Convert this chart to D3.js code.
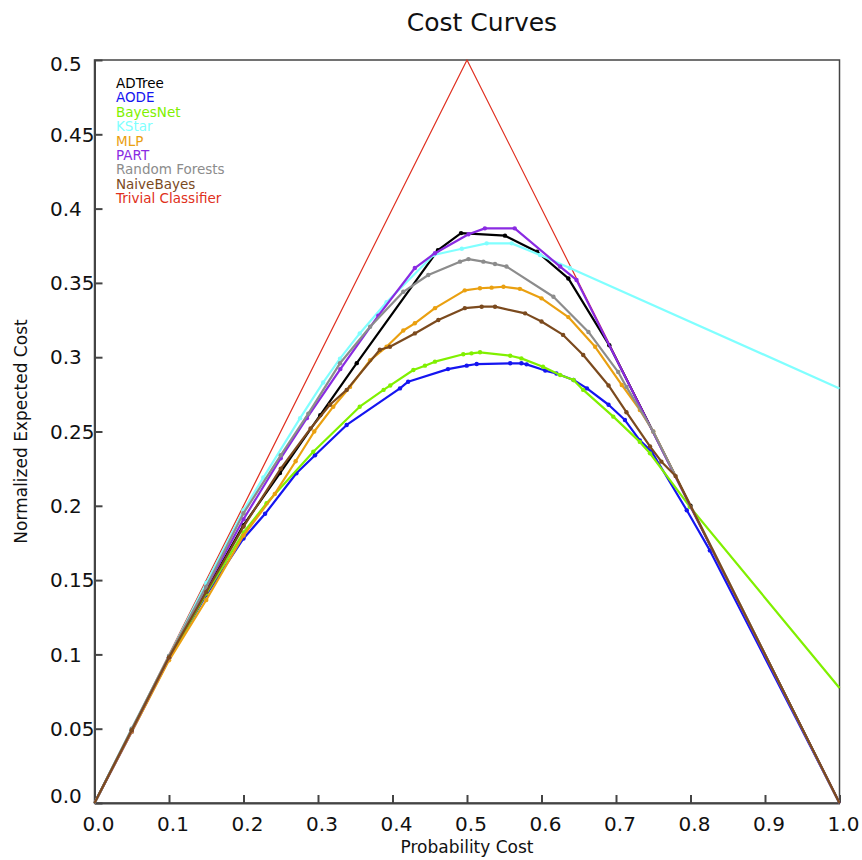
<!DOCTYPE html>
<html>
<head>
<meta charset="utf-8">
<script src="https://cdn.jsdelivr.net/npm/d3@7"></script>
<style>
  body { margin: 0; background: #fff; }
  text { font-family: "DejaVu Sans", sans-serif; }
</style>
</head>
<body>
<div id="svg-container"></div>
<script>
// data: [probability cost, normalized expected cost]
const trivial = [[0, 0], [0.5, 0.5], [1, 0]];

const adtree = [[0, 0], [0.05, 0.049], [0.1, 0.097], [0.15, 0.143], [0.2, 0.187], [0.249, 0.222],
  [0.303, 0.261], [0.352, 0.296], [0.461, 0.372], [0.492, 0.3835], [0.551, 0.3818], [0.594, 0.371],
  [0.636, 0.353], [0.691, 0.308], [0.8, 0.2], [1, 0]];

const aode = [[0, 0], [0.05, 0.048], [0.1, 0.097], [0.15, 0.14], [0.2, 0.178], [0.229, 0.1946],
  [0.271, 0.2219], [0.296, 0.234], [0.3385, 0.2544], [0.41, 0.279], [0.421, 0.2835], [0.4745, 0.292],
  [0.4996, 0.2943], [0.513, 0.2954], [0.558, 0.2959], [0.573, 0.2959], [0.58, 0.2952], [0.605, 0.291],
  [0.62, 0.289], [0.643, 0.2847], [0.661, 0.279], [0.69, 0.268], [0.712, 0.2577], [0.732, 0.244],
  [0.748, 0.2364], [0.795, 0.197], [0.826, 0.17], [1, 0]];

const bayesNet = [[0, 0], [0.05, 0.049], [0.1, 0.097], [0.15, 0.141], [0.2, 0.182], [0.231, 0.2017],
  [0.2937, 0.2364], [0.356, 0.2667], [0.388, 0.278], [0.397, 0.281], [0.428, 0.2914], [0.4436, 0.2943],
  [0.457, 0.297], [0.495, 0.302], [0.506, 0.3026], [0.5175, 0.3033], [0.558, 0.301], [0.573, 0.2992],
  [0.602, 0.2936], [0.625, 0.288], [0.643, 0.2847], [0.656, 0.278], [0.6964, 0.26], [0.732, 0.243],
  [0.7456, 0.2353], [0.799, 0.1994], [1, 0.0774]];

const kStar = [[0, 0], [0.05, 0.05], [0.1, 0.099], [0.15, 0.148], [0.2, 0.197], [0.2266, 0.219],
  [0.276, 0.259], [0.307, 0.283], [0.3295, 0.299], [0.356, 0.316], [0.392, 0.337], [0.455, 0.3688],
  [0.493, 0.373], [0.5264, 0.3766], [0.56, 0.3766], [0.598, 0.3688], [0.638, 0.36], [1, 0.279]];

const mlp = [[0, 0], [0.05, 0.048], [0.1, 0.096], [0.15, 0.1366], [0.2, 0.18], [0.242, 0.208],
  [0.27, 0.23], [0.295, 0.25], [0.3205, 0.2667], [0.343, 0.28], [0.37, 0.298], [0.392, 0.307],
  [0.4145, 0.318], [0.43, 0.3228], [0.457, 0.333], [0.497, 0.345], [0.5174, 0.3464], [0.533, 0.3468],
  [0.549, 0.3474], [0.571, 0.346], [0.6, 0.3396], [0.636, 0.327], [0.672, 0.307], [0.7077, 0.2813],
  [0.732, 0.2645], [0.75, 0.25], [1, 0]];

const part = [[0, 0], [0.05, 0.049], [0.1, 0.098], [0.15, 0.145], [0.2, 0.191], [0.25, 0.232],
  [0.285, 0.259], [0.33, 0.292], [0.381, 0.328], [0.43, 0.36], [0.457, 0.37], [0.502, 0.3827],
  [0.524, 0.3867], [0.564, 0.3867], [0.625, 0.361], [0.647, 0.352], [1, 0]];

const randomForests = [[0, 0], [0.05, 0.05], [0.1, 0.099], [0.15, 0.1456], [0.2, 0.195], [0.25, 0.234],
  [0.287, 0.262], [0.3295, 0.2959], [0.37, 0.3205], [0.4145, 0.344], [0.448, 0.3553], [0.4906, 0.3643],
  [0.502, 0.366], [0.522, 0.3643], [0.5376, 0.3627], [0.553, 0.361], [0.616, 0.3407], [0.663, 0.317],
  [0.703, 0.29], [0.714, 0.28], [0.75, 0.25], [1, 0]];

const naiveBayes = [[0, 0], [0.05, 0.049], [0.1, 0.098], [0.15, 0.142], [0.2, 0.186], [0.25, 0.225],
  [0.29, 0.252], [0.316, 0.268], [0.3385, 0.278], [0.383, 0.305], [0.3966, 0.307], [0.43, 0.316],
  [0.4615, 0.325], [0.497, 0.333], [0.5197, 0.334], [0.5376, 0.334], [0.578, 0.3295], [0.6, 0.324],
  [0.629, 0.315], [0.656, 0.3015], [0.69, 0.281], [0.714, 0.263], [0.7456, 0.24], [0.761, 0.2297],
  [0.78, 0.22], [1, 0]];

const seriesNames = ["ADTree", "AODE", "BayesNet", "KStar", "MLP", "PART", "Random Forests", "NaiveBayes", "Trivial Classifier"];
const seriesData = [adtree, aode, bayesNet, kStar, mlp, part, randomForests, naiveBayes, trivial];
const colors = ["#000000", "#1515f0", "#80f000", "#80ffff", "#eaa010", "#8a2be2", "#8c8c8c", "#7b4a1e", "#e03020"];

const xTicks = [0, 0.1, 0.2, 0.3, 0.4, 0.5, 0.6, 0.7, 0.8, 0.9, 1.0];
const yTicks = [0, 0.05, 0.1, 0.15, 0.2, 0.25, 0.3, 0.35, 0.4, 0.45, 0.5];

////////////////////////////  Init  ///////////////////////////////
const width = 862;
const height = 860;
const margin = { top: 60, right: 22.5, bottom: 57, left: 94.5 };

const svg = d3.select("#svg-container").append("svg")
  .attr("width", width)
  .attr("height", height);

const xScale = d3.scaleLinear().domain([0, 1]).range([margin.left, width - margin.right]);
const yScale = d3.scaleLinear().domain([0, 0.5]).range([height - margin.bottom, margin.top]);

const line = d3.line()
  .x((d) => xScale(d[0]))
  .y((d) => yScale(d[1]));

// frame (top & right)
svg.append("rect")
  .attr("x", xScale(0))
  .attr("y", yScale(0.5))
  .attr("width", xScale(1) - xScale(0))
  .attr("height", yScale(0) - yScale(0.5))
  .attr("fill", "none")
  .attr("stroke", "#444")
  .attr("stroke-width", 1.5);

// axes, ticks inward
const xAxis = d3.axisTop(xScale).tickValues(xTicks).tickSize(8).tickFormat("").tickSizeOuter(0);
const yAxis = d3.axisRight(yScale).tickValues(yTicks).tickSize(8).tickFormat("").tickSizeOuter(0);

svg.append("g")
  .attr("class", "x-axis")
  .attr("transform", `translate(0, ${yScale(0)})`)
  .call(xAxis)
  .call((g) => g.selectAll("line, path").attr("stroke", "#444").attr("stroke-width", 2));

svg.append("g")
  .attr("class", "y-axis")
  .attr("transform", `translate(${xScale(0)}, 0)`)
  .call(yAxis)
  .call((g) => g.selectAll("line, path").attr("stroke", "#444").attr("stroke-width", 2));

// tick labels
svg.append("g")
  .selectAll("text")
  .data(xTicks)
  .join("text")
  .attr("x", (d) => xScale(d) + 4)
  .attr("y", 831)
  .attr("text-anchor", "middle")
  .attr("font-size", 20)
  .attr("fill", "#111")
  .text((d) => d.toFixed(1));

svg.append("g")
  .selectAll("text")
  .data(yTicks)
  .join("text")
  .attr("x", 50)
  .attr("y", (d) => Math.min(Math.max(yScale(d), 64), 796))
  .attr("dy", "0.36em")
  .attr("text-anchor", "start")
  .attr("font-size", 20)
  .attr("fill", "#111")
  .text((d) => (d === 0 ? "0.0" : String(d)));

// titles
svg.append("text")
  .attr("x", 482)
  .attr("y", 31)
  .attr("text-anchor", "middle")
  .attr("font-size", 25)
  .attr("fill", "#111")
  .text("Cost Curves");

svg.append("text")
  .attr("x", 467)
  .attr("y", 853)
  .attr("text-anchor", "middle")
  .attr("font-size", 17)
  .attr("fill", "#111")
  .text("Probability Cost");

svg.append("text")
  .attr("transform", `translate(27, ${(yScale(0) + yScale(0.5)) / 2}) rotate(-90)`)
  .attr("text-anchor", "middle")
  .attr("font-size", 17)
  .attr("fill", "#111")
  .text("Normalized Expected Cost");

// lines: trivial first (underneath), then the classifiers
const order = [8, 0, 1, 2, 3, 4, 5, 6, 7];
order.forEach((i) => {
  const isTrivial = i === 8;
  svg.append("path")
    .datum(seriesData[i])
    .attr("d", line)
    .attr("fill", "none")
    .attr("stroke", colors[i])
    .attr("stroke-width", isTrivial ? 1.2 : 2.2)
    .attr("stroke-linejoin", "round");

  if (!isTrivial) {
    svg.append("g")
      .selectAll("circle")
      .data(seriesData[i].filter((d) => d[0] > 0 && d[0] < 1))
      .join("circle")
      .attr("cx", (d) => xScale(d[0]))
      .attr("cy", (d) => yScale(d[1]))
      .attr("r", 2.2)
      .attr("fill", colors[i]);
  }
});

// legend
svg.append("g")
  .selectAll("text")
  .data(seriesNames)
  .join("text")
  .attr("x", 116)
  .attr("y", (d, i) => 88 + i * 14.4)
  .attr("font-size", 13.5)
  .attr("fill", (d, i) => colors[i])
  .text((d) => d);
</script>
</body>
</html>
